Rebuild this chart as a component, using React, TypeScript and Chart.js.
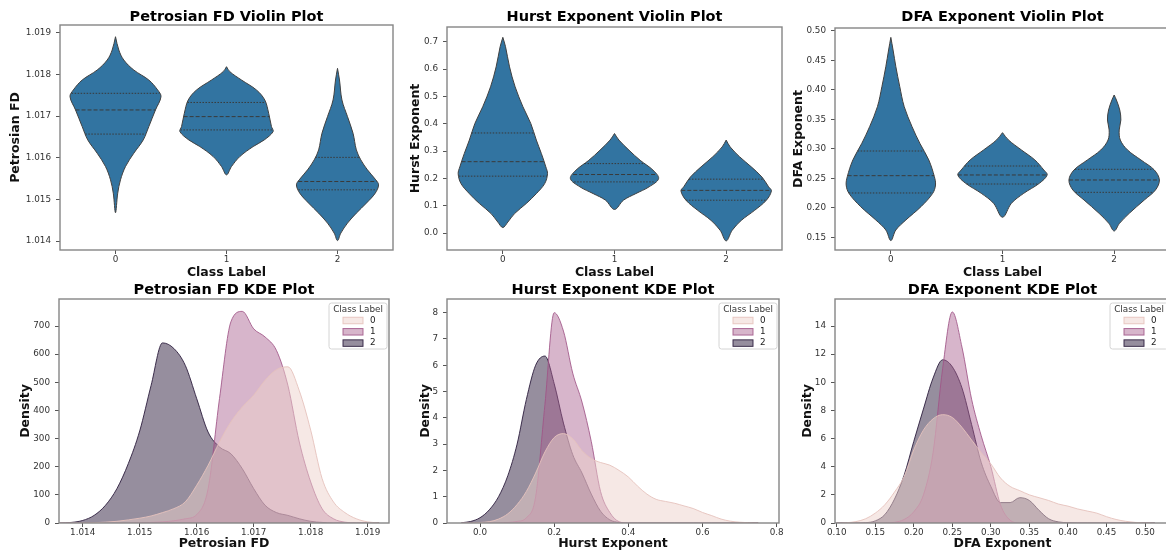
import React, { useEffect, useRef } from 'react';
import { Chart, registerables } from 'chart.js';

Chart.register(...registerables);

const FONT = "'DejaVu Sans', 'Liberation Sans', sans-serif";
Chart.defaults.font.family = FONT;

// ---------------- data ----------------
const CLASS_LABELS = ['0', '1', '2'];
const CLASS_POSITIONS = [0, 1, 2];
const LEGEND_TITLE = 'Class Label';

// Petrosian FD violins: levels (top -> bottom) and half-widths (category units)
const petrosianViolinLevels = [
  [1.01891, 1.01859, 1.01835, 1.01811, 1.01787, 1.01763, 1.01747, 1.01715, 1.01675, 1.01643, 1.01611, 1.01579, 1.01547, 1.01515, 1.01468],
  [1.01819, 1.01807, 1.01787, 1.01763, 1.01739, 1.01707, 1.01675, 1.01663, 1.01643, 1.01627, 1.01603, 1.01579, 1.01559],
  [1.01815, 1.01787, 1.01739, 1.01699, 1.01659, 1.01619, 1.01595, 1.01571, 1.01547, 1.01535, 1.01515, 1.01491, 1.01467, 1.01443, 1.01419, 1.01401],
];
const petrosianViolinWidths = [
  [0, 0.03, 0.075, 0.165, 0.3, 0.38, 0.41, 0.36, 0.3, 0.25, 0.165, 0.09, 0.045, 0.02, 0],
  [0, 0.03, 0.135, 0.27, 0.345, 0.38, 0.405, 0.42, 0.34, 0.24, 0.12, 0.045, 0],
  [0, 0.018, 0.04, 0.09, 0.14, 0.17, 0.21, 0.27, 0.345, 0.37, 0.34, 0.26, 0.17, 0.09, 0.03, 0],
];
const petrosianQuartiles = [
  [1.01657, 1.01715, 1.01755],
  [1.01667, 1.01699, 1.01733],
  [1.01523, 1.01543, 1.01601],
];
const petrosianViolinTicks = [1.014, 1.015, 1.016, 1.017, 1.018, 1.019];

// Hurst exponent violins
const hurstViolinLevels = [
  [0.716, 0.682, 0.608, 0.535, 0.462, 0.401, 0.34, 0.291, 0.242, 0.217, 0.181, 0.144, 0.108, 0.071, 0.04, 0.02],
  [0.364, 0.34, 0.303, 0.266, 0.23, 0.199, 0.169, 0.144, 0.12, 0.086],
  [0.34, 0.315, 0.279, 0.242, 0.205, 0.169, 0.154, 0.12, 0.083, 0.046, 0.01, -0.029],
];
const hurstViolinWidths = [
  [0, 0.024, 0.06, 0.11, 0.18, 0.25, 0.3, 0.345, 0.385, 0.4, 0.375, 0.3, 0.21, 0.105, 0.045, 0],
  [0, 0.04, 0.13, 0.23, 0.345, 0.395, 0.31, 0.19, 0.08, 0],
  [0, 0.036, 0.12, 0.225, 0.32, 0.38, 0.405, 0.36, 0.255, 0.135, 0.054, 0],
];
const hurstQuartiles = [
  [0.208, 0.261, 0.366],
  [0.187, 0.214, 0.254],
  [0.12, 0.156, 0.197],
];
const hurstViolinTicks = [0, 0.1, 0.2, 0.3, 0.4, 0.5, 0.6, 0.7];

// DFA exponent violins
const dfaViolinLevels = [
  [0.4887, 0.4673, 0.439, 0.4052, 0.3713, 0.3374, 0.3092, 0.281, 0.2527, 0.2386, 0.2245, 0.2019, 0.1794, 0.1624, 0.1444],
  [0.3273, 0.3148, 0.2979, 0.281, 0.264, 0.2556, 0.2415, 0.2245, 0.2076, 0.1839],
  [0.3911, 0.3826, 0.3657, 0.3487, 0.3318, 0.3148, 0.2979, 0.281, 0.264, 0.2471, 0.2302, 0.2132, 0.1906, 0.1737, 0.1607],
];
const dfaViolinWidths = [
  [0, 0.02, 0.045, 0.08, 0.12, 0.19, 0.26, 0.34, 0.39, 0.4, 0.375, 0.27, 0.135, 0.045, 0],
  [0, 0.054, 0.17, 0.29, 0.37, 0.4, 0.33, 0.19, 0.08, 0],
  [0, 0.02, 0.05, 0.06, 0.045, 0.055, 0.12, 0.24, 0.36, 0.405, 0.37, 0.27, 0.135, 0.048, 0],
];
const dfaQuartiles = [
  [0.2251, 0.2544, 0.2962],
  [0.2403, 0.2556, 0.2708],
  [0.2262, 0.2471, 0.2652],
];
const dfaViolinTicks = [0.15, 0.2, 0.25, 0.3, 0.35, 0.4, 0.45, 0.5];

// Petrosian FD KDE
const petrosianKdeX = [1.0136, 1.0138, 1.014, 1.0142, 1.0144, 1.0146, 1.0148, 1.015, 1.0152, 1.0154, 1.0156, 1.0158, 1.016, 1.0162, 1.0164, 1.0166, 1.0168, 1.017, 1.0172, 1.0174, 1.0176, 1.0178, 1.018, 1.0182, 1.0184, 1.0186, 1.0188, 1.019, 1.0192];
const petrosianKde0 = [0, 0, 0, 1, 3, 6, 11, 17, 25, 37, 51, 75, 134, 205, 288, 359, 412, 454, 507, 545, 555, 470, 330, 158, 75, 37, 15, 4, 0];
const petrosianKde1 = [0, 0, 0, 0, 0, 0, 0, 1, 2, 4, 8, 15, 30, 122, 442, 715, 752, 690, 661, 613, 489, 288, 146, 51, 15, 3, 0, 0, 0];
const petrosianKde2 = [0, 2, 9, 27, 63, 122, 211, 327, 489, 640, 620, 560, 442, 323, 270, 246, 193, 122, 63, 37, 27, 15, 6, 2, 0, 0, 0, 0, 0];
const petrosianKdeXTicks = [1.014, 1.015, 1.016, 1.017, 1.018, 1.019];
const petrosianKdeYTicks = [0, 100, 200, 300, 400, 500, 600, 700];

// Hurst exponent KDE
const hurstKdeX = [-0.05, -0.025, 0, 0.025, 0.05, 0.075, 0.1, 0.125, 0.15, 0.175, 0.2, 0.225, 0.25, 0.275, 0.3, 0.325, 0.35, 0.375, 0.4, 0.425, 0.45, 0.475, 0.5, 0.525, 0.55, 0.575, 0.6, 0.625, 0.65, 0.675, 0.7, 0.725, 0.75];
const hurstKde0 = [0, 0, 0.02, 0.05, 0.15, 0.35, 0.7, 1.2, 1.9, 2.7, 3.25, 3.4, 3.2, 2.75, 2.45, 2.3, 2.2, 2.0, 1.75, 1.4, 1.1, 0.9, 0.82, 0.75, 0.65, 0.55, 0.4, 0.28, 0.15, 0.07, 0.03, 0.01, 0];
const hurstKde1 = [0, 0, 0, 0, 0, 0.02, 0.06, 0.2, 1.0, 4.5, 8.0, 7.3, 5.7, 4.6, 3.1, 1.2, 0.4, 0.05, 0, 0, 0, 0, 0, 0, 0, 0, 0, 0, 0, 0, 0, 0, 0];
const hurstKde2 = [0.01, 0.06, 0.2, 0.5, 1.0, 1.8, 3.0, 4.7, 6.0, 6.35, 5.3, 3.8, 2.6, 1.9, 1.1, 0.45, 0.12, 0.02, 0, 0, 0, 0, 0, 0, 0, 0, 0, 0, 0, 0, 0, 0, 0];
const hurstKdeXTicks = [0, 0.2, 0.4, 0.6, 0.8];
const hurstKdeYTicks = [0, 1, 2, 3, 4, 5, 6, 7, 8];

// DFA exponent KDE
const dfaKdeX = [0.1, 0.1125, 0.125, 0.1375, 0.15, 0.1625, 0.175, 0.1875, 0.2, 0.2125, 0.225, 0.2375, 0.25, 0.2625, 0.275, 0.2875, 0.3, 0.3125, 0.325, 0.3375, 0.35, 0.3625, 0.375, 0.3875, 0.4, 0.4125, 0.425, 0.4375, 0.45, 0.4625, 0.475, 0.4875, 0.5, 0.5125];
const dfaKde0 = [0, 0.02, 0.1, 0.3, 0.7, 1.3, 2.2, 3.3, 5.2, 6.6, 7.4, 7.7, 7.5, 6.8, 5.9, 5.0, 4.2, 3.2, 2.6, 2.3, 2.0, 1.8, 1.6, 1.35, 1.2, 1.0, 0.85, 0.7, 0.45, 0.25, 0.12, 0.04, 0.01, 0];
const dfaKde1 = [0, 0, 0, 0, 0, 0, 0.05, 0.25, 0.8, 2.0, 5.0, 11.0, 15.0, 12.5, 8.8, 6.2, 4.0, 1.3, 0.2, 0, 0, 0, 0, 0, 0, 0, 0, 0, 0, 0, 0, 0, 0, 0];
const dfaKde2 = [0, 0, 0, 0.02, 0.15, 0.6, 1.7, 3.4, 5.8, 8.1, 10.3, 11.6, 11.1, 9.6, 7.0, 4.3, 2.6, 1.45, 1.45, 1.8, 1.6, 0.9, 0.3, 0.08, 0.02, 0, 0, 0, 0, 0, 0, 0, 0, 0];
const dfaKdeXTicks = [0.1, 0.15, 0.2, 0.25, 0.3, 0.35, 0.4, 0.45, 0.5];
const dfaKdeYTicks = [0, 2, 4, 6, 8, 10, 12, 14];

// ---------------- styles / layout ----------------
const VIOLIN_FILL = '#3274a1';
const VIOLIN_EDGE = '#404040';
const CLASS_FILLS = ['rgba(237,209,203,0.5)', 'rgba(167,92,140,0.45)', 'rgba(45,30,62,0.5)'];
const CLASS_EDGES = ['rgba(230,194,188,0.9)', 'rgba(160,85,135,0.85)', 'rgba(45,30,62,0.9)'];

const TITLE_SIZE = 14.5;
const AXIS_SIZE = 12.5;
const AXIS_LH = AXIS_SIZE * 1.2;
const TICK_SIZE = 8.8;
const PAD_R = 14;

const TITLE_FONT = { family: FONT, size: TITLE_SIZE, weight: 'bold' as const, lineHeight: 1 };
const AXIS_FONT = { family: FONT, size: AXIS_SIZE, weight: 'bold' as const, lineHeight: 1.2 };
const TICK_FONT = { family: FONT, size: TICK_SIZE, lineHeight: 1.2 };

type PanelPos = { plotL: number; plotR: number; plotT: number; plotB: number; yTitleX: number; titleY: number; xTitleY: number };

function geometry(p: PanelPos) {
  const left = Math.round(p.yTitleX - AXIS_LH / 2);
  const top = Math.floor(p.titleY - TITLE_SIZE / 2 - 1);
  const bottom = Math.round(p.xTitleY + AXIS_LH / 2);
  const right = p.plotR + PAD_R;
  const padTop = p.titleY - TITLE_SIZE / 2 - top;
  const padBottom = p.plotT - top - padTop - TITLE_SIZE;
  return { left, top, w: right - left, h: bottom - top, yw: p.plotL - left, xh: bottom - p.plotB, padTop, padBottom };
}
type Geom = ReturnType<typeof geometry>;

const framePlugin = {
  id: 'frame',
  afterDatasetsDraw(chart: any) {
    const { ctx, chartArea: a } = chart;
    ctx.save();
    ctx.strokeStyle = '#858585';
    ctx.lineWidth = 1.4;
    ctx.strokeRect(a.left, a.top, a.right - a.left, a.bottom - a.top);
    ctx.restore();
  },
};

const violinFillPlugin = {
  id: 'violinFill',
  beforeDatasetDraw(chart: any, args: any) {
    const ds = chart.data.datasets[args.index];
    if (!ds.violinFill) return;
    const meta = args.meta;
    const ctx = chart.ctx;
    ctx.save();
    ctx.beginPath();
    const line = meta.dataset;
    if (line && typeof line.path === 'function') {
      line.path(ctx);
    } else {
      meta.data.forEach((pt: any, i: number) => (i ? ctx.lineTo(pt.x, pt.y) : ctx.moveTo(pt.x, pt.y)));
    }
    ctx.closePath();
    ctx.fillStyle = ds.violinFill;
    ctx.fill();
    ctx.restore();
  },
};

const kdeLegendPlugin = {
  id: 'kdeLegend',
  afterDraw(chart: any) {
    const { ctx, chartArea: a } = chart;
    const datasets = chart.data.datasets;
    const boxW = 58;
    const boxH = 46;
    const x0 = a.right - boxW - 2;
    const y0 = a.top + 4;
    ctx.save();
    ctx.beginPath();
    const r = 2.5;
    ctx.moveTo(x0 + r, y0);
    ctx.lineTo(x0 + boxW - r, y0);
    ctx.quadraticCurveTo(x0 + boxW, y0, x0 + boxW, y0 + r);
    ctx.lineTo(x0 + boxW, y0 + boxH - r);
    ctx.quadraticCurveTo(x0 + boxW, y0 + boxH, x0 + boxW - r, y0 + boxH);
    ctx.lineTo(x0 + r, y0 + boxH);
    ctx.quadraticCurveTo(x0, y0 + boxH, x0, y0 + boxH - r);
    ctx.lineTo(x0, y0 + r);
    ctx.quadraticCurveTo(x0, y0, x0 + r, y0);
    ctx.closePath();
    ctx.fillStyle = 'rgba(255,255,255,0.8)';
    ctx.fill();
    ctx.strokeStyle = '#d4d4d4';
    ctx.lineWidth = 1;
    ctx.stroke();
    ctx.font = `${TICK_SIZE}px ${FONT}`;
    ctx.fillStyle = '#333';
    ctx.textAlign = 'center';
    ctx.textBaseline = 'middle';
    ctx.fillText(LEGEND_TITLE, x0 + boxW / 2, y0 + 7);
    datasets.forEach((ds: any, i: number) => {
      const cy = y0 + 17.5 + i * 11.3;
      ctx.fillStyle = ds.backgroundColor;
      ctx.fillRect(x0 + 14, cy - 3.25, 20, 6.5);
      ctx.strokeStyle = ds.borderColor;
      ctx.lineWidth = 1;
      ctx.strokeRect(x0 + 14, cy - 3.25, 20, 6.5);
      ctx.fillStyle = '#222';
      ctx.textAlign = 'left';
      ctx.fillText(ds.label, x0 + 41, cy);
    });
    ctx.restore();
  },
};

function scaleOpts(g: Geom, axis: 'x' | 'y', min: number, max: number, ticks: number[], label: (v: number) => string, title: string) {
  return {
    type: 'linear',
    min,
    max,
    afterFit: (s: any) => {
      if (axis === 'y') s.width = g.yw;
      else s.height = g.xh;
    },
    afterBuildTicks: (s: any) => {
      s.ticks = ticks.map((v) => ({ value: v }));
    },
    ticks: {
      font: TICK_FONT,
      color: '#333',
      padding: axis === 'y' ? 5 : 0.3,
      autoSkip: false,
      maxRotation: 0,
      callback: (v: any) => label(Number(v)),
    },
    grid: { display: true, drawOnChartArea: false, drawTicks: true, tickLength: 4, color: '#555' },
    border: { display: false },
    title: { display: true, text: title, font: AXIS_FONT, color: '#111', padding: 0 },
  };
}

function baseOptions(g: Geom, title: string, scales: any) {
  return {
    responsive: false,
    animation: false,
    devicePixelRatio: 1,
    events: [],
    layout: { padding: { left: 0, top: 0, right: PAD_R, bottom: 0 } },
    plugins: {
      legend: { display: false },
      tooltip: { enabled: false },
      title: {
        display: true,
        text: title,
        font: TITLE_FONT,
        color: '#000',
        fullSize: false,
        padding: { top: g.padTop, bottom: g.padBottom },
      },
    },
    scales,
  };
}

function widthAt(levels: number[], widths: number[], q: number) {
  for (let k = 0; k < levels.length - 1; k++) {
    const a = levels[k];
    const b = levels[k + 1];
    if ((q <= a && q >= b) || (q >= a && q <= b)) {
      const t = a === b ? 0 : (q - a) / (b - a);
      return widths[k] + t * (widths[k + 1] - widths[k]);
    }
  }
  return 0;
}

type ViolinSpec = {
  pos: PanelPos; title: string; yTitle: string; yMin: number; yMax: number; yTicks: number[]; decimals: number;
  levels: number[][]; widths: number[][]; quartiles: number[][];
};

function violinConfig(spec: ViolinSpec, g: Geom) {
  const datasets: any[] = [];
  spec.levels.forEach((lv, i) => {
    const w = spec.widths[i];
    const right = lv.map((v, k) => ({ x: CLASS_POSITIONS[i] + w[k], y: v }));
    const left = lv.map((v, k) => ({ x: CLASS_POSITIONS[i] - w[k], y: v })).reverse();
    datasets.push({
      type: 'line',
      data: [...right, ...left.slice(1)],
      borderColor: VIOLIN_EDGE,
      borderWidth: 1,
      pointRadius: 0,
      tension: 0.35,
      fill: false,
      violinFill: VIOLIN_FILL,
      order: 2,
    });
  });
  spec.quartiles.forEach((qs, i) => {
    qs.forEach((q, j) => {
      const hw = widthAt(spec.levels[i], spec.widths[i], q);
      datasets.push({
        type: 'line',
        data: [{ x: CLASS_POSITIONS[i] - hw, y: q }, { x: CLASS_POSITIONS[i] + hw, y: q }],
        borderColor: '#3a3a3a',
        borderWidth: 1,
        borderDash: j === 1 ? [4, 2] : [1.5, 1.5],
        pointRadius: 0,
        fill: false,
        order: 1,
      });
    });
  });
  return {
    type: 'line',
    data: { datasets },
    options: baseOptions(g, spec.title, {
      x: scaleOpts(g, 'x', -0.5, 2.5, CLASS_POSITIONS, (v) => CLASS_LABELS[Math.round(v)] ?? '', 'Class Label'),
      y: scaleOpts(g, 'y', spec.yMin, spec.yMax, spec.yTicks, (v) => v.toFixed(spec.decimals), spec.yTitle),
    }),
    plugins: [violinFillPlugin, framePlugin],
  };
}

type KdeSpec = {
  pos: PanelPos; title: string; xTitle: string; xMin: number; xMax: number; xTicks: number[]; xDecimals: number;
  yMax: number; yTicks: number[]; grid: number[]; densities: number[][];
};

function kdeConfig(spec: KdeSpec, g: Geom) {
  const datasets = spec.densities.map((d, i) => ({
    type: 'line',
    label: CLASS_LABELS[i],
    data: spec.grid.map((x, k) => ({ x, y: d[k] })),
    backgroundColor: CLASS_FILLS[i],
    borderColor: CLASS_EDGES[i],
    borderWidth: 1,
    pointRadius: 0,
    cubicInterpolationMode: 'monotone',
    fill: 'origin',
    order: i,
  }));
  return {
    type: 'line',
    data: { datasets },
    options: baseOptions(g, spec.title, {
      x: scaleOpts(g, 'x', spec.xMin, spec.xMax, spec.xTicks, (v) => v.toFixed(spec.xDecimals), spec.xTitle),
      y: scaleOpts(g, 'y', 0, spec.yMax, spec.yTicks, (v) => String(Math.round(v)), 'Density'),
    }),
    plugins: [framePlugin, kdeLegendPlugin],
  };
}

const VIOLINS: ViolinSpec[] = [
  {
    pos: { plotL: 60, plotR: 393, plotT: 25, plotB: 250, yTitleX: 15, titleY: 17, xTitleY: 272 },
    title: 'Petrosian FD Violin Plot', yTitle: 'Petrosian FD', yMin: 1.013784, yMax: 1.019192, yTicks: petrosianViolinTicks, decimals: 3,
    levels: petrosianViolinLevels, widths: petrosianViolinWidths, quartiles: petrosianQuartiles,
  },
  {
    pos: { plotL: 447, plotR: 782, plotT: 27, plotB: 250, yTitleX: 415, titleY: 17, xTitleY: 272 },
    title: 'Hurst Exponent Violin Plot', yTitle: 'Hurst Exponent', yMin: -0.0622, yMax: 0.7538, yTicks: hurstViolinTicks, decimals: 1,
    levels: hurstViolinLevels, widths: hurstViolinWidths, quartiles: hurstQuartiles,
  },
  {
    pos: { plotL: 835, plotR: 1170, plotT: 28, plotB: 250, yTitleX: 798, titleY: 17, xTitleY: 272 },
    title: 'DFA Exponent Violin Plot', yTitle: 'DFA Exponent', yMin: 0.1285, yMax: 0.5046, yTicks: dfaViolinTicks, decimals: 2,
    levels: dfaViolinLevels, widths: dfaViolinWidths, quartiles: dfaQuartiles,
  },
];

const KDES: KdeSpec[] = [
  {
    pos: { plotL: 59, plotR: 389, plotT: 299, plotB: 523, yTitleX: 25, titleY: 290, xTitleY: 543 },
    title: 'Petrosian FD KDE Plot', xTitle: 'Petrosian FD', xMin: 1.013584, xMax: 1.019374, xTicks: petrosianKdeXTicks, xDecimals: 3,
    yMax: 796, yTicks: petrosianKdeYTicks, grid: petrosianKdeX, densities: [petrosianKde0, petrosianKde1, petrosianKde2],
  },
  {
    pos: { plotL: 447, plotR: 779, plotT: 299, plotB: 523, yTitleX: 425, titleY: 290, xTitleY: 543 },
    title: 'Hurst Exponent KDE Plot', xTitle: 'Hurst Exponent', xMin: -0.089, xMax: 0.8062, xTicks: hurstKdeXTicks, xDecimals: 1,
    yMax: 8.52, yTicks: hurstKdeYTicks, grid: hurstKdeX, densities: [hurstKde0, hurstKde1, hurstKde2],
  },
  {
    pos: { plotL: 835, plotR: 1170, plotT: 299, plotB: 523, yTitleX: 807, titleY: 290, xTitleY: 543 },
    title: 'DFA Exponent KDE Plot', xTitle: 'DFA Exponent', xMin: 0.0978, xMax: 0.5324, xTicks: dfaKdeXTicks, xDecimals: 2,
    yMax: 15.92, yTicks: dfaKdeYTicks, grid: dfaKdeX, densities: [dfaKde0, dfaKde1, dfaKde2],
  },
];

function ChartPanel({ pos, build }: { pos: PanelPos; build: (g: Geom) => any }) {
  const ref = useRef<HTMLCanvasElement>(null);
  const g = geometry(pos);
  useEffect(() => {
    if (!ref.current) return;
    const chart = new Chart(ref.current, build(g));
    return () => chart.destroy();
  }, []);
  return (
    <canvas
      ref={ref}
      width={g.w}
      height={g.h}
      style={{ position: 'absolute', left: g.left, top: g.top, width: g.w, height: g.h }}
    />
  );
}

export default function App() {
  return (
    <div style={{ position: 'fixed', left: 0, top: 0, width: 1166, height: 550, overflow: 'hidden', background: '#ffffff' }}>
      {VIOLINS.map((s, i) => (
        <ChartPanel key={'v' + i} pos={s.pos} build={(g) => violinConfig(s, g)} />
      ))}
      {KDES.map((s, i) => (
        <ChartPanel key={'k' + i} pos={s.pos} build={(g) => kdeConfig(s, g)} />
      ))}
    </div>
  );
}
